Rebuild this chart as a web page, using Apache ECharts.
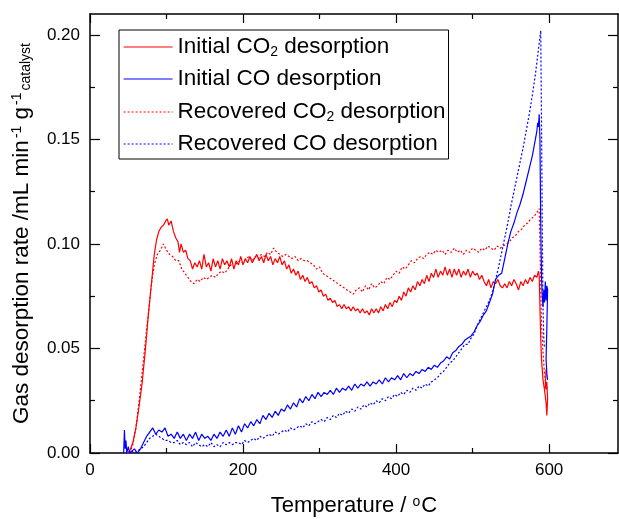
<!DOCTYPE html>
<html>
<head>
<meta charset="utf-8">
<script src="https://cdn.jsdelivr.net/npm/echarts@6/dist/echarts.min.js"></script>
<style>
  html, body { margin: 0; padding: 0; background: #fff; }
  #chart { width: 619px; height: 519px; }
</style>
</head>
<body>
<div id="chart"></div>
<script>
// Desorption profiles: [temperature (°C), rate (mL min-1 g-1 catalyst)]
const initialCO2 = [
  [48,0.000],[52,0.001],[56,0.005],[60,0.012],[64,0.022],[68,0.033],[72,0.048],[76,0.065],[80,0.080],[84,0.095],
  [87,0.102],[90,0.106],[93,0.108],[96,0.109],[99,0.111],[101,0.112],[103,0.109],[106,0.111],[109,0.106],[112,0.103],
  [115,0.101],[117,0.096],[119,0.100],[122,0.096],[125,0.097],[128,0.093],[131,0.092],[134,0.088],[137,0.091],[140,0.089],
  [143,0.092],[146,0.088],[149,0.095],[152,0.089],[155,0.091],[158,0.087],[161,0.093],[164,0.089],[167,0.092],[170,0.088],
  [173,0.093],[176,0.090],[179,0.092],[182,0.089],[185,0.093],[188,0.088],[191,0.092],[194,0.090],[197,0.094],[200,0.090],
  [203,0.093],[206,0.091],[209,0.094],[212,0.091],[215,0.093],[218,0.095],[221,0.092],[224,0.094],[227,0.091],[230,0.095],
  [233,0.092],[236,0.094],[239,0.090],[242,0.093],[245,0.091],[248,0.094],[251,0.090],[254,0.092],[257,0.088],[260,0.090],
  [263,0.086],[266,0.088],[269,0.085],[272,0.087],[275,0.083],[278,0.085],[281,0.082],[284,0.084],[287,0.081],[290,0.082],
  [293,0.079],[296,0.080],[299,0.077],[302,0.078],[305,0.075],[308,0.076],[311,0.073],[314,0.074],[317,0.072],[320,0.073],
  [323,0.070],[326,0.071],[329,0.069],[332,0.071],[335,0.069],[338,0.070],[341,0.068],[344,0.070],[347,0.068],[350,0.069],
  [353,0.067],[356,0.069],[359,0.067],[362,0.068],[365,0.066],[368,0.069],[371,0.067],[374,0.069],[377,0.067],[380,0.070],
  [383,0.068],[386,0.071],[389,0.069],[392,0.072],[395,0.070],[398,0.073],[401,0.072],[404,0.075],[407,0.073],[410,0.077],
  [413,0.075],[416,0.079],[419,0.077],[422,0.080],[425,0.078],[428,0.082],[431,0.080],[434,0.083],[437,0.081],[440,0.085],
  [443,0.082],[446,0.086],[449,0.084],[452,0.088],[455,0.084],[458,0.087],[461,0.085],[464,0.089],[467,0.085],[470,0.088],
  [473,0.084],[476,0.088],[479,0.085],[482,0.088],[485,0.084],[488,0.087],[491,0.085],[494,0.088],[497,0.084],[500,0.087],
  [503,0.085],[506,0.086],[509,0.083],[512,0.085],[515,0.082],[518,0.080],[521,0.083],[524,0.079],[527,0.082],[530,0.081],
  [533,0.083],[536,0.080],[539,0.079],[542,0.081],[545,0.079],[548,0.082],[551,0.080],[554,0.083],[557,0.081],[560,0.078],
  [563,0.082],[566,0.080],[569,0.083],[572,0.081],[575,0.084],[578,0.082],[581,0.085],[584,0.084],[586,0.087],[587,0.085],
  [588,0.070],[589,0.055],[590,0.045],[591,0.040],[592,0.035],[594,0.030],[596,0.024],[597,0.018],[598,0.026],[597,0.034],
  [595,0.031],[596,0.040]
];

const initialCO = [
  [44,0.000],[45,0.011],[46,0.002],[47,0.006],[48,0.000],[50,0.003],[52,0.000],[55,0.001],[58,0.002],[62,0.000],
  [66,0.002],[70,0.005],[74,0.008],[78,0.010],[82,0.012],[86,0.009],[90,0.011],[94,0.010],[98,0.012],[102,0.008],
  [106,0.009],[110,0.007],[114,0.010],[118,0.007],[122,0.009],[126,0.006],[130,0.009],[134,0.007],[138,0.010],[142,0.006],
  [146,0.009],[150,0.007],[154,0.008],[158,0.006],[162,0.009],[166,0.007],[170,0.010],[174,0.008],[178,0.011],[182,0.008],
  [186,0.012],[190,0.009],[194,0.013],[198,0.010],[202,0.014],[206,0.012],[210,0.015],[214,0.013],[218,0.016],[222,0.014],
  [226,0.018],[230,0.016],[234,0.019],[238,0.017],[242,0.020],[246,0.018],[250,0.021],[254,0.020],[258,0.023],[262,0.021],
  [266,0.024],[270,0.022],[274,0.026],[278,0.024],[282,0.027],[286,0.025],[290,0.028],[294,0.026],[298,0.029],[302,0.027],
  [306,0.029],[310,0.028],[314,0.030],[318,0.028],[322,0.031],[326,0.029],[330,0.031],[334,0.030],[338,0.032],[342,0.030],
  [346,0.033],[350,0.031],[354,0.033],[358,0.032],[362,0.034],[366,0.032],[370,0.034],[374,0.033],[378,0.035],[382,0.033],
  [386,0.036],[390,0.034],[394,0.036],[398,0.035],[402,0.037],[406,0.035],[410,0.038],[414,0.036],[418,0.038],[422,0.037],
  [426,0.039],[430,0.038],[434,0.040],[438,0.039],[442,0.041],[446,0.040],[450,0.042],[454,0.041],[458,0.043],[462,0.044],
  [466,0.046],[470,0.045],[474,0.048],[478,0.049],[482,0.051],[486,0.052],[490,0.054],[494,0.055],[498,0.056],[502,0.058],
  [506,0.061],[510,0.063],[514,0.066],[518,0.068],[522,0.072],[526,0.076],[530,0.083],[534,0.085],[538,0.086],[542,0.093],
  [546,0.100],[550,0.106],[554,0.110],[558,0.115],[562,0.119],[566,0.124],[570,0.130],[574,0.136],[578,0.142],[582,0.150],
  [584,0.154],[585,0.158],[586,0.156],[587,0.162],[588,0.150],[589,0.110],[590,0.085],[591,0.075],[592,0.070],[593,0.078],
  [594,0.072],[595,0.082],[596,0.073],[597,0.080],[598,0.078],[597,0.060],[596,0.045],[597,0.038],[598,0.035]
];

const recoveredCO2 = [
  [52,0.000],[56,0.004],[60,0.012],[64,0.024],[68,0.038],[72,0.052],[76,0.066],[80,0.080],[84,0.090],[88,0.095],
  [92,0.097],[96,0.100],[100,0.097],[104,0.095],[108,0.094],[112,0.092],[116,0.092],[120,0.088],[124,0.086],[128,0.084],
  [132,0.082],[136,0.081],[140,0.083],[144,0.082],[148,0.084],[152,0.083],[156,0.084],[160,0.085],[164,0.084],[168,0.086],
  [172,0.087],[176,0.086],[180,0.088],[184,0.090],[188,0.089],[192,0.091],[196,0.092],[200,0.091],[204,0.093],[208,0.094],
  [212,0.092],[216,0.094],[220,0.093],[224,0.095],[228,0.094],[232,0.096],[236,0.095],[240,0.098],[244,0.096],[248,0.095],
  [252,0.094],[256,0.095],[260,0.094],[264,0.093],[268,0.094],[272,0.092],[276,0.093],[280,0.092],[284,0.092],[288,0.091],
  [292,0.090],[296,0.088],[300,0.089],[304,0.086],[308,0.085],[312,0.084],[316,0.083],[320,0.082],[324,0.081],[328,0.080],
  [332,0.079],[336,0.078],[340,0.077],[344,0.076],[348,0.078],[352,0.079],[356,0.077],[360,0.080],[364,0.078],[368,0.081],
  [372,0.079],[376,0.080],[380,0.082],[384,0.081],[388,0.084],[392,0.083],[396,0.085],[400,0.087],[404,0.086],[408,0.089],
  [412,0.088],[416,0.090],[420,0.092],[424,0.091],[428,0.093],[432,0.094],[436,0.093],[440,0.095],[444,0.096],[448,0.095],
  [452,0.097],[456,0.096],[460,0.097],[464,0.095],[468,0.097],[472,0.096],[476,0.098],[480,0.096],[484,0.097],[488,0.095],
  [492,0.097],[496,0.096],[500,0.098],[504,0.097],[508,0.096],[512,0.098],[516,0.097],[520,0.099],[524,0.098],[528,0.097],
  [532,0.099],[536,0.098],[540,0.099],[544,0.100],[548,0.101],[552,0.103],[556,0.104],[560,0.106],[564,0.107],[568,0.109],
  [572,0.110],[576,0.112],[580,0.113],[584,0.115],[587,0.117],[588,0.100],[589,0.080],[590,0.062],[592,0.048],[594,0.038],
  [596,0.030],[598,0.032]
];

const recoveredCO = [
  [50,0.000],[54,0.001],[58,0.000],[62,0.001],[66,0.002],[70,0.003],[74,0.005],[78,0.007],[82,0.008],[86,0.009],
  [90,0.008],[94,0.007],[98,0.006],[102,0.006],[106,0.005],[110,0.005],[114,0.006],[118,0.004],[122,0.005],[126,0.004],
  [130,0.005],[134,0.003],[138,0.005],[142,0.004],[146,0.003],[150,0.004],[154,0.003],[158,0.005],[162,0.003],[166,0.004],
  [170,0.003],[174,0.005],[178,0.004],[182,0.005],[186,0.004],[190,0.005],[194,0.005],[198,0.004],[202,0.006],[206,0.005],
  [210,0.006],[214,0.007],[218,0.006],[222,0.008],[226,0.007],[230,0.008],[234,0.009],[238,0.008],[242,0.010],[246,0.009],
  [250,0.010],[254,0.011],[258,0.010],[262,0.012],[266,0.011],[270,0.012],[274,0.013],[278,0.012],[282,0.014],[286,0.013],
  [290,0.015],[294,0.014],[298,0.015],[302,0.016],[306,0.015],[310,0.017],[314,0.016],[318,0.018],[322,0.017],[326,0.019],
  [330,0.018],[334,0.020],[338,0.019],[342,0.021],[346,0.020],[350,0.022],[354,0.021],[358,0.023],[362,0.022],[366,0.024],
  [370,0.023],[374,0.025],[378,0.024],[382,0.026],[386,0.025],[390,0.027],[394,0.026],[398,0.028],[402,0.027],[406,0.029],
  [410,0.028],[414,0.030],[418,0.029],[422,0.031],[426,0.030],[430,0.032],[434,0.031],[438,0.033],[442,0.032],[446,0.034],
  [450,0.035],[454,0.036],[458,0.038],[462,0.039],[466,0.041],[470,0.043],[474,0.044],[478,0.046],[482,0.048],[486,0.050],
  [490,0.052],[494,0.052],[498,0.055],[502,0.057],[506,0.061],[510,0.064],[514,0.067],[518,0.070],[522,0.073],[526,0.077],
  [530,0.083],[534,0.089],[538,0.096],[542,0.103],[546,0.110],[550,0.118],[554,0.125],[558,0.132],[562,0.139],[566,0.146],
  [570,0.154],[574,0.162],[578,0.171],[582,0.181],[585,0.190],[587,0.196],[589,0.202],[590,0.160],[591,0.110],[592,0.070],
  [593,0.055],[594,0.050]
];

const seriesNames = ['Initial CO2 desorption', 'Initial CO desorption', 'Recovered CO2 desorption', 'Recovered CO desorption'];
const legendLabels = ['Initial CO{sub|2} desorption', 'Initial CO desorption', 'Recovered CO{sub|2} desorption', 'Recovered CO desorption'];

const xRange = [0, 690];
const yRange = [0, 0.21];
const xMajorTicks = [0, 200, 400, 600];
const xMinorTicks = [100, 300, 500];
const yMajorTicks = [0, 0.05, 0.10, 0.15, 0.20];
const yMinorTicks = [0.025, 0.075, 0.125, 0.175];

const FONT = "'Liberation Sans', Arial, sans-serif";
const chart = echarts.init(document.getElementById('chart'), null, { renderer: 'canvas' });

function xAxisDef(position, ticks, len, withLabels, withLine) {
  return {
    type: 'value', position: position, min: xRange[0], max: xRange[1],
    axisLine: { show: withLine, onZero: false, lineStyle: { color: '#000', width: 1.5 } },
    axisTick: { show: true, inside: true, length: len, customValues: ticks, lineStyle: { color: '#000', width: 1.2 } },
    axisLabel: { show: withLabels, customValues: ticks, margin: 9, color: '#000', fontSize: 17, fontFamily: FONT },
    splitLine: { show: false }
  };
}
function yAxisDef(position, ticks, len, withLabels, withLine) {
  return {
    type: 'value', position: position, min: yRange[0], max: yRange[1],
    axisLine: { show: withLine, onZero: false, lineStyle: { color: '#000', width: 1.5 } },
    axisTick: { show: true, inside: true, length: len, customValues: ticks, lineStyle: { color: '#000', width: 1.2 } },
    axisLabel: { show: withLabels, customValues: ticks, margin: 10, color: '#000', fontSize: 17, fontFamily: FONT,
                 formatter: v => v.toFixed(2) },
    splitLine: { show: false }
  };
}

const xMain = xAxisDef('bottom', xMajorTicks, 9, true, true);
xMain.name = 'Temperature / {sup|o}C';
xMain.nameLocation = 'middle';
xMain.nameGap = 42;
xMain.nameTextStyle = {
  color: '#000', fontSize: 22, fontFamily: FONT,
  rich: { sup: { fontSize: 14, fontFamily: FONT, color: '#000', verticalAlign: 'top', lineHeight: 14, padding: [0, 1, 10, 0] } }
};

const yMain = yAxisDef('left', yMajorTicks, 10, true, true);
yMain.name = 'Gas desorption rate /mL min{sup|-1} g{sup|-1}{sub|catalyst}';
yMain.nameLocation = 'middle';
yMain.nameRotate = 90;
yMain.nameGap = 57;
yMain.nameTextStyle = {
  color: '#000', fontSize: 22.5, fontFamily: FONT,
  rich: {
    sup: { fontSize: 14, fontFamily: FONT, color: '#000', verticalAlign: 'top', lineHeight: 14, padding: [0, 0, 11, 2] },
    sub: { fontSize: 14, fontFamily: FONT, color: '#000', verticalAlign: 'bottom', lineHeight: 14, padding: [11, 0, 0, 2] }
  }
};

const lineData = [initialCO2, initialCO, recoveredCO2, recoveredCO];
const lineColors = ['#ff0000', '#0000ff', '#ff0000', '#0000ff'];
const lineTypes = ['solid', 'solid', [2, 2], [2, 2]];

chart.setOption({
  animation: false,
  backgroundColor: '#fff',
  grid: { left: 90, top: 14, right: 1, bottom: 66, containLabel: false, outerBoundsMode: 'none' },
  xAxis: [
    xMain,
    xAxisDef('bottom', xMinorTicks, 5, false, false),
    xAxisDef('top', xMajorTicks, 9, false, true),
    xAxisDef('top', xMinorTicks, 5, false, false)
  ],
  yAxis: [
    yMain,
    yAxisDef('left', yMinorTicks, 5, false, false),
    yAxisDef('right', yMajorTicks, 10, false, true),
    yAxisDef('right', yMinorTicks, 5, false, false)
  ],
  legend: {
    orient: 'vertical', left: 119, top: 30,
    data: seriesNames,
    borderColor: '#000', borderWidth: 1, borderRadius: 0,
    padding: [4, 3, 3, 4],
    itemWidth: 49, itemHeight: 14, itemGap: 8,
    itemStyle: { opacity: 0 },
    lineStyle: { width: 1.2 },
    formatter: name => legendLabels[seriesNames.indexOf(name)],
    textStyle: {
      color: '#000', fontSize: 22.5, fontFamily: FONT, lineHeight: 24,
      rich: { sub: { fontSize: 14, fontFamily: FONT, color: '#000', verticalAlign: 'bottom', lineHeight: 14, padding: [11, 0, 0, 0] } }
    }
  },
  series: lineData.map((d, i) => ({
    name: seriesNames[i],
    type: 'line',
    data: d,
    xAxisIndex: 0, yAxisIndex: 0,
    symbol: 'none', showSymbol: false,
    smooth: false,
    lineStyle: { color: lineColors[i], width: 1.2, type: lineTypes[i] },
    itemStyle: { color: lineColors[i] },
    z: i < 2 ? 3 : 2
  }))
});
</script>
</body>
</html>
